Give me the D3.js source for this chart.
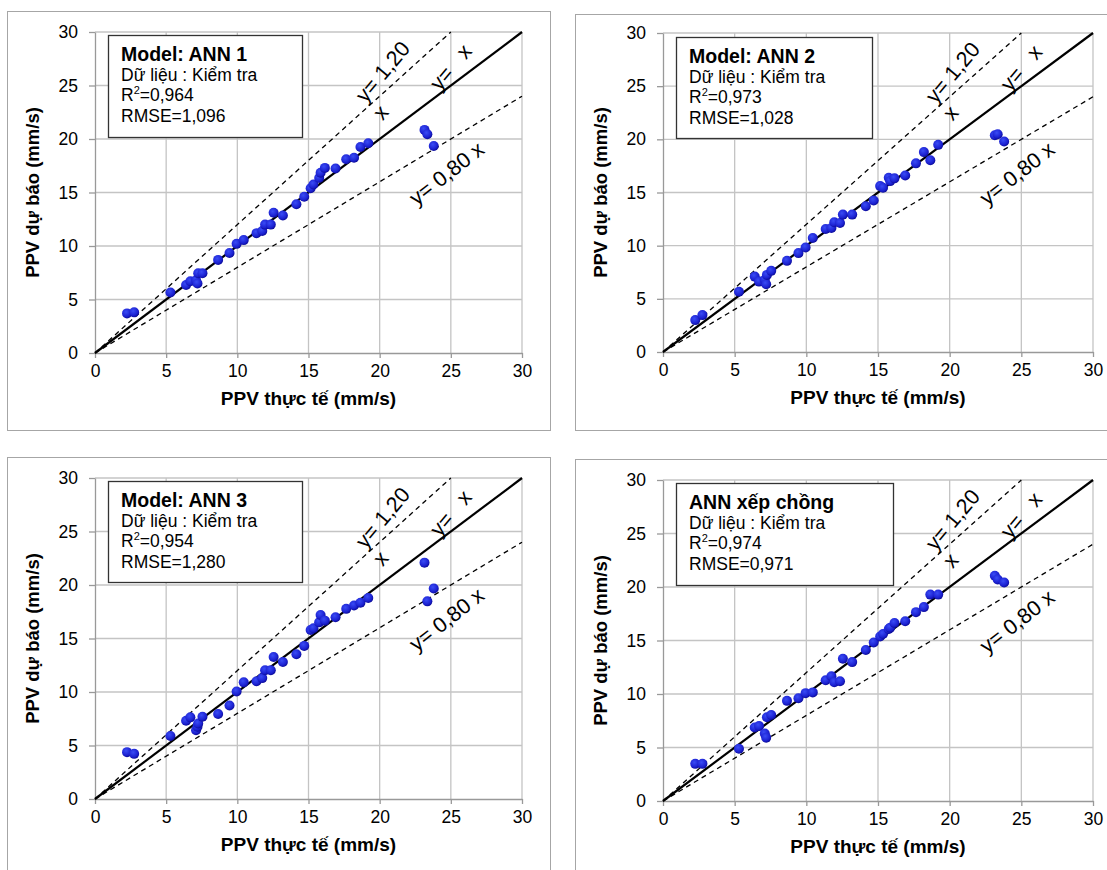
<!DOCTYPE html>
<html>
<head>
<meta charset="utf-8">
<script src="https://cdn.jsdelivr.net/npm/d3@7"></script>
<style>
  body { margin: 0; background: #fff; }
  svg { display: block; font-family: "Liberation Sans", Arial, sans-serif; }
</style>
</head>
<body>
<div id="chart"></div>
<script>
// PPV thực tế (mm/s) - the same test records in every panel
const actual = [2.25, 2.75, 5.3, 6.4, 6.7, 7.1, 7.2, 7.25, 7.55, 8.65, 9.45, 9.95, 10.45, 11.35, 11.75, 11.95,
    12.35, 12.55, 13.2, 14.15, 14.7, 15.15, 15.35, 15.75, 15.85, 16.15, 16.9, 17.65, 18.2, 18.65, 19.2, 23.15, 23.35, 23.8];

// PPV dự báo (mm/s) per model
const predAnn1 = [3.7, 3.8, 5.65, 6.35, 6.7, 6.8, 6.5, 7.45, 7.45, 8.7, 9.35, 10.2, 10.55, 11.2, 11.4, 12.0,
    12.0, 13.1, 12.85, 13.9, 14.6, 15.4, 15.75, 16.35, 16.85, 17.3, 17.25, 18.1, 18.25, 19.25, 19.6, 20.85, 20.45, 19.35];
const predAnn2 = [3.0, 3.47, 5.67, 7.09, 6.62, 6.8, 6.37, 7.25, 7.63, 8.57, 9.3, 9.83, 10.72, 11.57, 11.66, 12.2,
    12.13, 12.92, 12.92, 13.71, 14.25, 15.6, 15.44, 16.39, 16.07, 16.33, 16.6, 17.74, 18.8, 18.03, 19.48, 20.39, 20.48, 19.79];
const predAnn3 = [4.38, 4.22, 5.89, 7.31, 7.63, 6.43, 6.75, 7.05, 7.69, 7.94, 8.73, 10.05, 10.9, 11.0, 11.3, 12.04,
    12.04, 13.27, 12.8, 13.52, 14.31, 15.79, 15.95, 16.51, 17.2, 16.67, 16.99, 17.77, 18.09, 18.34, 18.78, 22.09, 18.47, 19.67];
const predStack = [3.47, 3.47, 4.88, 6.87, 7.0, 6.3, 5.92, 7.82, 8.04, 9.36, 9.61, 10.08, 10.15, 11.28, 11.66, 11.09,
    11.19, 13.3, 12.98, 14.12, 14.81, 15.38, 15.6, 16.07, 16.2, 16.64, 16.8, 17.65, 18.12, 19.29, 19.29, 21.05, 20.7, 20.42];

const titles = ["Model: ANN 1", "Model: ANN 2", "Model: ANN 3", "ANN xếp chồng"];
const r2Values = ["0,964", "0,973", "0,954", "0,974"];
const rmseValues = ["1,096", "1,028", "1,280", "0,971"];
const ticks = [0, 5, 10, 15, 20, 25, 30];

const width = 1107;
const height = 870;

const predictions = [predAnn1, predAnn2, predAnn3, predStack];

// frame, plot area and legend box of each panel
const layouts = [
    { frame: [7.5, 11.5, 543, 419], x0: 95, x1: 522, y0: 353, y1: 32, box: [108, 35, 194, 102] },
    { frame: [575.5, 14.5, 600, 416], x0: 663, x1: 1093, y0: 352, y1: 33, box: [676, 37, 196, 101] },
    { frame: [7.5, 457.5, 543, 500], x0: 95, x1: 522, y0: 799, y1: 478, box: [108, 481, 194, 101] },
    { frame: [575.5, 459.5, 600, 500], x0: 663, x1: 1093, y0: 801, y1: 480, box: [676, 483, 217, 102] }
];

const svg = d3.select("#chart")
    .append("svg")
    .attr("width", width)
    .attr("height", height);

const grad = svg.append("defs").append("radialGradient")
    .attr("id", "dot")
    .attr("cx", "40%").attr("cy", "35%").attr("r", "65%");
grad.append("stop").attr("offset", "0%").attr("stop-color", "#3a4cf5");
grad.append("stop").attr("offset", "70%").attr("stop-color", "#1c22d2");
grad.append("stop").attr("offset", "100%").attr("stop-color", "#0c0c9a");

const drawPanel = (i) => {
    const p = layouts[i];
    const g = svg.append("g");

    const x = d3.scaleLinear().domain([0, 30]).range([p.x0, p.x1]);
    const y = d3.scaleLinear().domain([0, 30]).range([p.y0, p.y1]);

    g.append("rect")
        .attr("x", p.frame[0]).attr("y", p.frame[1])
        .attr("width", p.frame[2]).attr("height", p.frame[3])
        .attr("fill", "none")
        .attr("stroke", "#a6a6a6");

    // grid
    g.append("g").selectAll("line")
        .data(ticks.slice(1))
        .join("line")
        .attr("x1", d => x(d)).attr("x2", d => x(d))
        .attr("y1", y(0)).attr("y2", y(30))
        .attr("stroke", "#c4c4c4").attr("stroke-width", 1.3);
    g.append("g").selectAll("line")
        .data(ticks.slice(1))
        .join("line")
        .attr("x1", x(0)).attr("x2", x(30))
        .attr("y1", d => y(d)).attr("y2", d => y(d))
        .attr("stroke", "#c4c4c4").attr("stroke-width", 1.3);

    const xAxis = g.append("g")
        .attr("transform", `translate(0,${p.y0})`)
        .call(d3.axisBottom(x).tickValues(ticks).tickSize(5).tickSizeOuter(0).tickPadding(7));
    const yAxis = g.append("g")
        .attr("transform", `translate(${p.x0},0)`)
        .call(d3.axisLeft(y).tickValues(ticks).tickSize(6).tickSizeOuter(0).tickPadding(11));
    [xAxis, yAxis].forEach(a => {
        a.select(".domain").attr("stroke", "#999").attr("stroke-width", 1.3);
        a.selectAll(".tick line").attr("stroke", "#999").attr("stroke-width", 1.3);
        a.selectAll("text")
            .attr("font-family", "Liberation Sans, Arial, sans-serif")
            .attr("font-size", 17.5)
            .attr("fill", "#000");
    });

    g.append("text")
        .attr("x", (p.x0 + p.x1) / 2)
        .attr("y", p.y0 + 52)
        .attr("text-anchor", "middle")
        .attr("font-size", 19)
        .attr("font-weight", "bold")
        .text("PPV thực tế (mm/s)");
    g.append("text")
        .attr("transform", `translate(${p.x0 - 56},${(p.y0 + p.y1) / 2}) rotate(-90)`)
        .attr("text-anchor", "middle")
        .attr("font-size", 18.5)
        .attr("font-weight", "bold")
        .text("PPV dự báo (mm/s)");

    // reference lines y = 1.2x, y = x, y = 0.8x
    const refs = [
        { k: 1.2, end: 25, dash: "5,4", w: 1.3 },
        { k: 1.0, end: 30, dash: null, w: 2.2 },
        { k: 0.8, end: 30, dash: "5,4", w: 1.3 }
    ];
    g.append("g").selectAll("line")
        .data(refs)
        .join("line")
        .attr("x1", x(0)).attr("y1", y(0))
        .attr("x2", d => x(d.end)).attr("y2", d => y(d.k * d.end))
        .attr("stroke", "#000")
        .attr("stroke-width", d => d.w)
        .attr("stroke-dasharray", d => d.dash);

    const labels = [
        { t: "y= 1,20", cx: 20.2, cy: 26.3, a: -50 },
        { t: "x", cx: 20.05, cy: 22.5, a: -50 },
        { t: "y=", cx: 24.35, cy: 25.7, a: -50 },
        { t: "x", cx: 25.9, cy: 28.2, a: -50 },
        { t: "y= 0,80 x", cx: 24.7, cy: 16.8, a: -38 }
    ];
    g.append("g").selectAll("text")
        .data(labels)
        .join("text")
        .attr("transform", d => `translate(${x(d.cx)},${y(d.cy)}) rotate(${d.a})`)
        .attr("text-anchor", "middle")
        .attr("dy", "0.35em")
        .attr("font-size", 21.5)
        .text(d => d.t);

    // points
    g.append("g").selectAll("circle")
        .data(d3.zip(actual, predictions[i]))
        .join("circle")
        .attr("cx", d => x(d[0]))
        .attr("cy", d => y(d[1]))
        .attr("r", 5)
        .attr("fill", "url(#dot)");

    // legend box
    const [bx, by, bw, bh] = p.box;
    g.append("rect")
        .attr("x", bx + 0.5).attr("y", by + 0.5)
        .attr("width", bw).attr("height", bh)
        .attr("fill", "#fff")
        .attr("stroke", "#333")
        .attr("stroke-width", 1.3);
    const tx = bx + 13;
    g.append("text")
        .attr("x", tx).attr("y", by + 26)
        .attr("font-size", 19.5)
        .attr("font-weight", "bold")
        .text(titles[i]);
    g.append("text")
        .attr("x", tx).attr("y", by + 46)
        .attr("font-size", 17.5)
        .text("Dữ liệu : Kiểm tra");
    const r2 = g.append("text")
        .attr("x", tx).attr("y", by + 66)
        .attr("font-size", 17.5);
    r2.append("tspan").text("R");
    r2.append("tspan").attr("font-size", 11).attr("dy", -7).text("2");
    r2.append("tspan").attr("dy", 7).text("=" + r2Values[i]);
    g.append("text")
        .attr("x", tx).attr("y", by + 86.5)
        .attr("font-size", 17.5)
        .text("RMSE=" + rmseValues[i]);
};

d3.range(4).forEach(drawPanel);
</script>
</body>
</html>
